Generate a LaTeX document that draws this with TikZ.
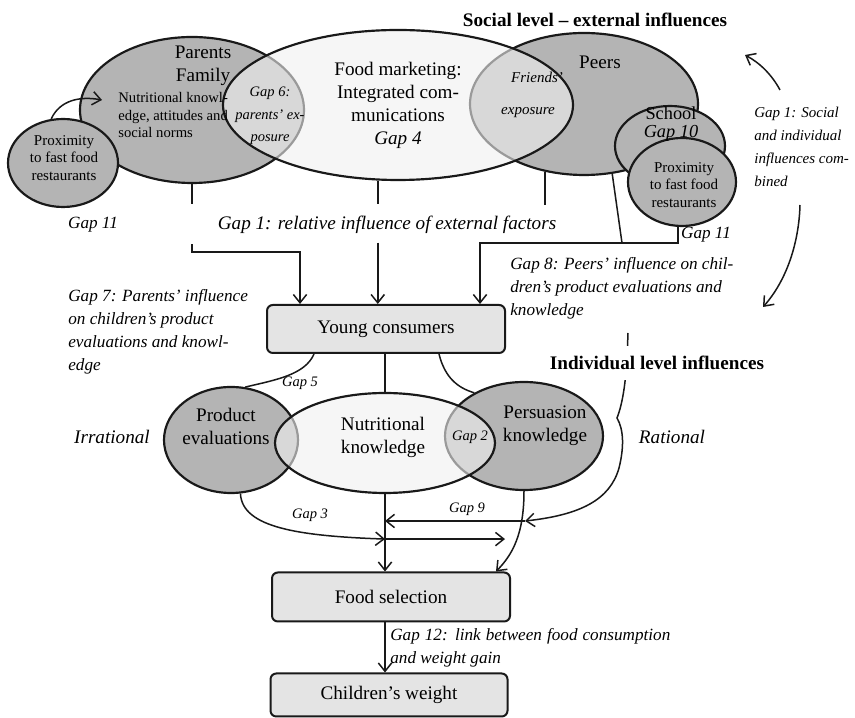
\documentclass[tikz,border=0pt]{standalone}
\usepackage{fontspec}
\setmainfont{Liberation Serif}
\usetikzlibrary{shapes.geometric, arrows.meta, calc}
\definecolor{darkfill}{RGB}{180,180,180}
\definecolor{lightfill}{RGB}{240,240,240}
\definecolor{boxfill}{RGB}{228,228,228}
\definecolor{inkcolor}{RGB}{25,25,25}
\tikzset{
    darkell/.style={ellipse, draw=inkcolor, line width=1.3pt, fill=darkfill, inner sep=0pt},
    lightell/.style={ellipse, draw=inkcolor, line width=1.3pt, fill=lightfill, fill opacity=0.6, inner sep=0pt},
    stage/.style={rectangle, draw=inkcolor, rounded corners=3.5pt, line width=1.2pt,
        fill=boxfill, inner sep=0pt, font=\fontsize{11.5}{13.8}\selectfont},
    txt/.style={inner sep=0pt, align=center, font=\fontsize{11.5}{13.8}\selectfont},
    itxt/.style={inner sep=0pt, align=center, font=\fontsize{11.5}{13.8}\selectfont\itshape},
    gaplbl/.style={inner sep=0pt, align=left, font=\fontsize{10.3}{13.8}\selectfont\itshape},
    tinygap/.style={inner sep=0pt, align=center, font=\fontsize{8.7}{10}\selectfont\itshape},
    proxtxt/.style={inner sep=0pt, align=center, font=\fontsize{9}{10.5}\selectfont},
    heading/.style={inner sep=0pt, font=\fontsize{11.5}{13.8}\selectfont\bfseries},
    link/.style={line width=0.9pt, draw=inkcolor},
    arrow/.style={-{Straight Barb[length=5pt,width=8pt]}, line width=0.9pt, draw=inkcolor}
}

\begin{document}
\begin{tikzpicture}[x=0.6pt, y=-0.6pt]
    \fill[white] (0,0) rectangle (855,718);
    \useasboundingbox (0,0) rectangle (855,718);

    % social level circles
    \node[darkell, minimum width=134.4pt, minimum height=87.6pt] (parents) at (192,110) {};
    \node[darkell, minimum width=136.8pt, minimum height=85.2pt] (peers) at (584,104) {};
    \node[darkell, minimum width=66pt, minimum height=48pt] (school) at (670,146) {};
    \node[darkell, minimum width=64.8pt, minimum height=52.8pt] (proxR) at (682,182) {};
    \node[darkell, minimum width=66pt, minimum height=52.8pt] (proxL) at (63,163) {};
    \node[lightell, minimum width=210pt, minimum height=90pt] (mkt) at (398,105) {};

    % individual level circles
    \node[darkell, minimum width=80.4pt, minimum height=63.6pt] (prod) at (231,440) {};
    \node[darkell, minimum width=94.8pt, minimum height=64.8pt] (pers) at (524,436) {};
    \node[lightell, minimum width=132pt, minimum height=60pt] (nutr) at (385,443) {};

    % boxes
    \node[stage, minimum width=142.8pt, minimum height=28.8pt] (yc) at (386,329) {Young consumers};
    \node[stage, minimum width=142.8pt, minimum height=29.4pt] (food) at (391,597) {Food selection};
    \node[stage, minimum width=142.2pt, minimum height=25.8pt] (weight) at (389,695) {Children's weight};

    % external influences down to young consumers
    \coordinate (parlow) at ($(parents.south)+(0,60)$);
    \coordinate (parbend) at (300,252);
    \coordinate (mktlow) at ($(mkt.255)+(0,62)$);
    \coordinate (peerjoin) at (622,243);
    \coordinate (peerbend) at (480,243);
    \draw[link] (parents.south) -- ++(0,20);
    \draw[link] (mkt.255) -- ++(0,23);
    \draw[link] (peers.240) -- ++(0,33);
    \draw[arrow] (parlow) |- (parbend) -- (parbend |- yc.north);
    \draw[arrow] (mktlow) -- (mktlow |- yc.north);
    \draw[link] (peers.292) -- (peerjoin);
    \draw[arrow] (proxR.265) |- (peerbend) -- (peerbend |- yc.north);

    % proximity to parents
    \coordinate (proxtip) at (102,100);
    \draw[arrow] (proxL.105) .. controls (60,100) and (80,96) .. (proxtip);

    % young consumers to individual level
    \draw[link] ($(yc.south west)+(48,0)$) .. controls (305,375) and (275,380) .. (prod.75);
    \draw[link] (yc.south -| nutr.north) -- (nutr.north);
    \draw[link] ($(yc.south east)+(-67,0)$) .. controls (445,378) and (458,388) .. (pers.139);

    % individual level to food selection
    \coordinate (gapthree) at ($(nutr.south)+(0,45)$);
    \draw[arrow] (nutr.south) -- (nutr.south |- food.north);
    \draw[arrow] (prod.280) .. controls (242,528) and (300,536) .. (gapthree);
    \draw[arrow] (gapthree) -- ++(120,0);
    \draw[arrow] (pers.south) .. controls (524,535) and (512,555) .. ($(food.north east)+(-15,0)$);
    \coordinate (bracetop) at (628,333);
    \coordinate (gapnine) at (525,521);
    \draw[arrow] (bracetop) .. controls (627,360) and (626,395) .. (617,418)
        .. controls (624,430) and (624,448) .. (619,468)
        .. controls (610,500) and (580,515) .. (gapnine);
    \draw[arrow] (gapnine) -- (gapnine -| nutr.south);
    \draw[arrow] (food.south -| nutr.south) -- (weight.north -| nutr.south);

    % social and individual combined
    \coordinate (upstart) at (780,90);
    \coordinate (uptip) at (745,55);
    \coordinate (downstart) at (800,205);
    \coordinate (downtip) at (763,307);
    \draw[arrow] (upstart) .. controls (772,75) and (760,63) .. (uptip);
    \draw[arrow] (downstart) .. controls (799,242) and (787,280) .. (downtip);

    % texts
    \node[heading] (social) at (595,20) {Social level -- external influences};
    \node[heading, fill=white, inner ysep=6pt] (indiv) at (657,363) {Individual level influences};
    \node[txt] (partxt) at (203,66) {Parents\\Family};
    \node[inner sep=0pt, align=left, anchor=west, font=\fontsize{8.8}{10.5}\selectfont] (normtxt) at (118,115)
        {Nutritional knowl-\\edge, attitudes and\\social norms};
    \node[tinygap, font=\fontsize{8.7}{13.5}\selectfont\itshape] (gapsix) at (270,116) {Gap 6:\\parents' ex-\\posure};
    \node[txt] (mkttxt) at (398,105) {Food marketing:\\Integrated com-\\munications\\\textit{Gap 4}};
    \node[txt] (peerstxt) at (600,62) {Peers};
    \node[tinygap, font=\fontsize{9}{19}\selectfont\itshape] (friends) at (528,95) {\hspace*{1.2em}Friends'\\exposure};
    \node[txt, font=\fontsize{11}{11.2}\selectfont] (schooltxt) at (671,124) {School\\\textit{Gap 10}};
    \node[proxtxt] (proxRtxt) at (684,185) {Proximity\\to fast food\\restaurants};
    \node[proxtxt] (proxLtxt) at (64,158) {Proximity\\to fast food\\restaurants};
    \node[gaplbl] (gapelevenL) at (93,225) {Gap 11};
    \node[itxt] (gaponerel) at (387,225) {Gap 1: relative influence of external factors};
    \node[gaplbl] (gapelevenR) at (706,235) {Gap 11};
    \node[gaplbl, anchor=west, font=\fontsize{9}{13.8}\selectfont\itshape] (gaponesoc) at (754,147)
        {Gap 1: Social\\and individual\\influences com-\\bined};
    \node[gaplbl, anchor=west] (gapeight) at (510,288) {Gap 8: Peers' influence on chil-\\dren's product evaluations and\\knowledge};
    \node[gaplbl, anchor=west] (gapseven) at (68,332) {Gap 7: Parents' influence\\on children's product\\evaluations and knowl-\\edge};
    \node[tinygap] (gapfive) at (300,383) {Gap 5};
    \node[txt] (prodtxt) at (226,426) {Product\\evaluations};
    \node[itxt] (irr) at (112,437) {Irrational};
    \node[txt] (nutrtxt) at (383,437) {Nutritional\\knowledge};
    \node[tinygap] (gaptwo) at (470,437) {Gap 2};
    \node[txt] (perstxt) at (545,426) {Persuasion\\knowledge};
    \node[itxt] (rat) at (672,437) {Rational};
    \node[tinygap] (gapthreetxt) at (310,515) {Gap 3};
    \node[tinygap] (gapninetxt) at (467,509) {Gap 9};
    \node[gaplbl, anchor=west, text width=168pt, align=justify] (gaptwelve) at (390,648)
        {Gap 12: link between food consumption and weight gain};
\end{tikzpicture}
\end{document}
